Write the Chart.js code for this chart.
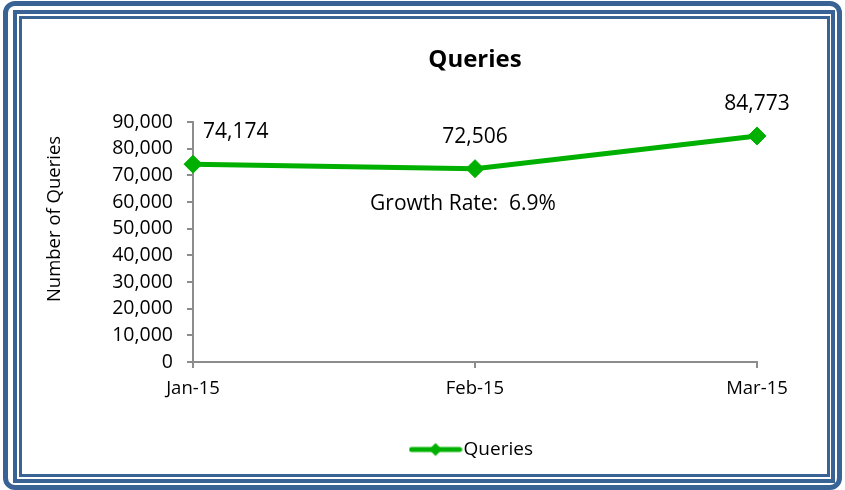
<!DOCTYPE html>
<html>
<head>
<meta charset="utf-8">
<title>Queries</title>
<script src="https://cdn.jsdelivr.net/npm/chart.js@4.4.1/dist/chart.umd.min.js"></script>
<style>
    html, body { margin: 0; padding: 0; background: #fff; }
    body { width: 845px; height: 490px; position: relative; overflow: hidden; }
    .frame { position: absolute; border-style: solid; border-color: #3A6395; box-sizing: border-box; }
    #outer { left: 3px; top: 1px; right: 3px; bottom: 0; border-width: 5px; border-radius: 12px; }
    #middle { left: 13px; top: 10px; right: 10px; bottom: 7px; border-width: 4px; }
    #inner { left: 19px; top: 16px; right: 15px; bottom: 13px; border-width: 3px; }
    #wrap { position: absolute; left: 0; top: 0; width: 845px; height: 490px; }
</style>
</head>
<body>
<div class="frame" id="outer"></div>
<div class="frame" id="middle"></div>
<div class="frame" id="inner"></div>
<div id="wrap"><canvas id="queriesChart"></canvas></div>

<script>
// Data
const months = ['Jan-15', 'Feb-15', 'Mar-15'];
const queries = [74174, 72506, 84773];
const yTickValues = [0, 10000, 20000, 30000, 40000, 50000, 60000, 70000, 80000, 90000];
const growthNote = 'Growth Rate:  6.9%';
const growthNoteAt = 60000;   // height of the note, in axis units

const green = '#00B000';
const axisGray = '#8C8C8C';
const fontFamily = '"Open Sans", sans-serif';

Chart.defaults.font.family = fontFamily;
Chart.defaults.color = '#000';

// Legend marker: line with a diamond, like the Excel one.
// Wider than the legend box so the text sits close to the line end.
const legendMark = document.createElement('canvas');
legendMark.width = 54;
legendMark.height = 16;
(function () {
    const c = legendMark.getContext('2d');
    c.strokeStyle = green;
    c.lineWidth = 5;
    c.lineCap = 'round';
    c.beginPath();
    c.moveTo(3, 8);
    c.lineTo(51, 8);
    c.stroke();
    c.fillStyle = green;
    c.beginPath();
    c.moveTo(27, 1.5);
    c.lineTo(33.5, 8);
    c.lineTo(27, 14.5);
    c.lineTo(20.5, 8);
    c.closePath();
    c.fill();
})();

// Value labels, growth note and rotated axis title
const extraText = {
    id: 'extraText',
    afterDatasetsDraw(chart) {
        const { ctx, chartArea } = chart;
        const meta = chart.getDatasetMeta(0);
        ctx.save();
        ctx.fillStyle = '#000';
        ctx.textBaseline = 'middle';
        ctx.font = '21px ' + fontFamily;
        meta.data.forEach((pt, i) => {
            const text = queries[i].toLocaleString('en-US');
            if (i === 0) {
                // first label would sit on the axis, so it is nudged right
                ctx.textAlign = 'left';
                ctx.fillText(text, pt.x + 10, pt.y - 32);
            } else {
                ctx.textAlign = 'center';
                ctx.fillText(text, pt.x, pt.y - 32);
            }
        });

        ctx.textAlign = 'center';
        ctx.font = '21px ' + fontFamily;
        ctx.fillText(growthNote, chart.scales.x.getPixelForValue(1) - 12, chart.scales.y.getPixelForValue(growthNoteAt) + 2);

        // y axis title
        ctx.font = '18.5px ' + fontFamily;
        ctx.translate(55, (chartArea.top + chartArea.bottom) / 2 - 23);
        ctx.rotate(-Math.PI / 2);
        ctx.fillText('Number of Queries', 0, 0);
        ctx.restore();
    }
};

const ctx = document.getElementById('queriesChart').getContext('2d');
const queriesChart = new Chart(ctx, {
    type: 'line',
    data: {
        labels: months,
        datasets: [{
            label: 'Queries',
            data: queries,
            borderColor: green,
            backgroundColor: green,
            borderWidth: 5,
            pointStyle: 'rectRot',
            pointRadius: 9,
            pointBorderWidth: 1,
            pointBackgroundColor: green,
            pointBorderColor: green,
            tension: 0,
            fill: false
        }]
    },
    options: {
        responsive: true,
        maintainAspectRatio: false,
        animation: false,
        layout: { padding: { top: 0, bottom: 21, left: 0, right: 88 } },
        plugins: {
            title: {
                display: true,
                text: 'Queries',
                fullSize: false,
                color: '#000',
                font: { size: 24, weight: 'bold' },
                padding: { top: 46, bottom: 47.2 }
            },
            legend: {
                position: 'bottom',
                fullSize: false,
                labels: {
                    usePointStyle: true,
                    pointStyle: legendMark,
                    pointStyleWidth: 37,
                    padding: 10,
                    color: '#000',
                    font: { size: 19 }
                }
            },
            tooltip: { enabled: false }
        },
        scales: {
            x: {
                offset: false,
                grid: { display: true, drawOnChartArea: false, drawTicks: true, tickLength: 6, color: axisGray, lineWidth: 2 },
                border: { display: true, color: axisGray, width: 2 },
                ticks: { color: '#000', font: { size: 18.5 }, padding: 10, maxRotation: 0 },
                afterFit: (s) => { s.height = 68; }
            },
            y: {
                min: 0,
                max: 90000,
                afterBuildTicks: (s) => { s.ticks = yTickValues.map(v => ({ value: v })); },
                grid: { display: true, drawOnChartArea: false, drawTicks: true, tickLength: 6, color: axisGray, lineWidth: 2 },
                border: { display: true, color: axisGray, width: 2 },
                ticks: {
                    color: '#000',
                    font: { size: 19.5 },
                    padding: 14,
                    callback: (v) => Number(v).toLocaleString('en-US')
                },
                afterFit: (s) => { s.width = 193; }
            }
        }
    },
    plugins: [extraText]
});
</script>
</body>
</html>
